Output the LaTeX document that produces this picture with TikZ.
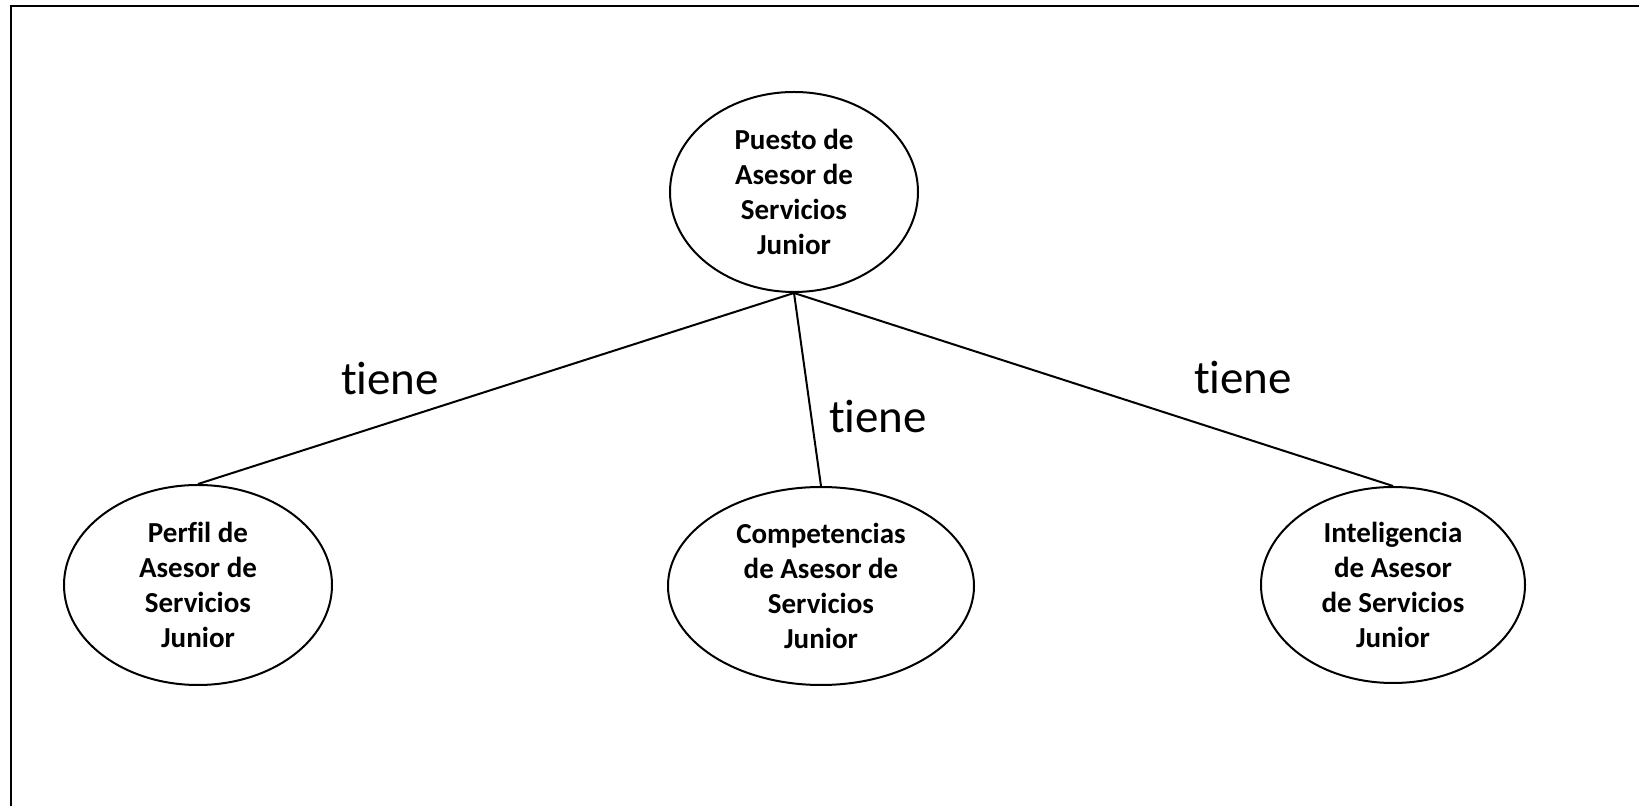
\documentclass[tikz,border=0pt]{standalone}
\usepackage{fontspec}
\setmainfont[Ligatures={NoCommon}]{Carlito}
\usetikzlibrary{shapes.geometric}

\tikzset{
  concepto/.style={draw, ellipse, line width=1pt, inner sep=0pt, align=center,
    font=\bfseries\fontsize{14.5}{17.5}\selectfont},
  relacion/.style={anchor=base, font=\fontsize{23.5}{28}\selectfont},
}

\begin{document}
\begin{tikzpicture}[x=0.5pt, y=-0.5pt]
\useasboundingbox (0,0) rectangle (1639,806);
% marco
\draw[line width=1.3pt] (11,806) -- (11,6) -- (1639,6);
% conceptos
\node[concepto, minimum width=124pt, minimum height=100pt] (puesto) at (794,192) {Puesto de\\Asesor de\\Servicios\\Junior};
\node[concepto, minimum width=134pt, minimum height=100pt] (perfil) at (198,585) {Perfil de\\Asesor de\\Servicios\\Junior};
\node[concepto, minimum width=153pt, minimum height=99pt] (compet) at (821,586) {Competencias\\de Asesor de\\Servicios\\Junior};
\node[concepto, minimum width=132pt, minimum height=98pt] (intel) at (1393,585) {Inteligencia\\de Asesor\\de Servicios\\Junior};
% relaciones
\draw[line width=1pt] (puesto.south) -- (perfil.north);
\draw[line width=1pt] (puesto.south) -- (compet.north);
\draw[line width=1pt] (puesto.south) -- (intel.north);
\node[relacion] (tiene1) at (390,395) {tiene};
\node[relacion] (tiene2) at (878,433) {tiene};
\node[relacion] (tiene3) at (1243,394) {tiene};
\end{tikzpicture}
\end{document}
